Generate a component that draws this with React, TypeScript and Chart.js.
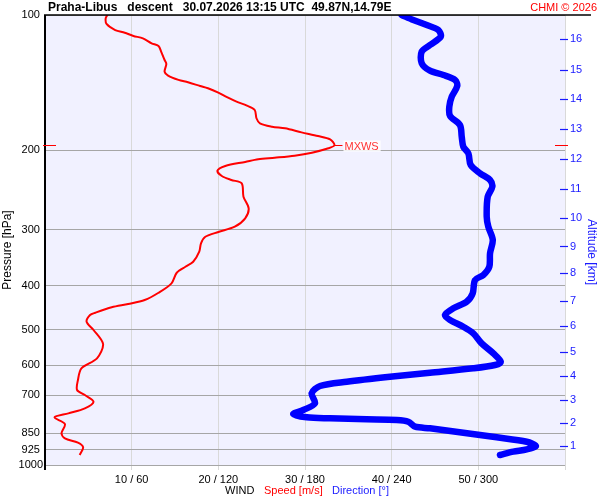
import React, { useEffect, useRef } from 'react';
import Chart from 'chart.js/auto';

const FONT = '"Liberation Sans", Arial, sans-serif';

// axes
const pressureTicks = [100, 200, 300, 400, 500, 600, 700, 850, 925, 1000];
const pressureTickLabels = ['100', '200', '300', '400', '500', '600', '700', '850', '925', '1000'];
const speedTicks = [0, 10, 20, 30, 40, 50, 60];
const speedTickLabels = ['', '10 / 60', '20 / 120', '30 / 180', '40 / 240', '50 / 300', ''];
const altitudeLabels = ['1', '2', '3', '4', '5', '6', '7', '8', '9', '10', '11', '12', '13', '14', '15', '16'];
const altitudePressure = [907.4, 807.9, 716.9, 633.3, 560.1, 491.1, 431.3, 375.0, 326.9, 283.0, 243.9, 209.2, 179.5, 153.9, 132.7, 113.1];

// wind speed profile [m/s] vs pressure [hPa]
const speedPressure = [
  100, 101.7, 104.7, 108, 109.5, 111.3, 112.7, 115.6, 117.2, 120.6,
  125.9, 128.5, 133.7, 136.4, 139.4, 141.1, 143.8, 145.5, 148.8, 152.3,
  155.8, 159, 162.6, 169.6, 174.1, 177.1, 178.6, 182.3, 185.7, 188.9,
  194.6, 197.8, 202.3, 205.4, 207.6, 209.2, 212.1, 216.5, 221.8, 227.9,
  232.6, 236.6, 253.4, 268.9, 283, 295.4, 303.5, 311, 321.6, 335.7,
  353.4, 362.6, 373.9, 394.7, 414.2, 429.9, 438.8, 446.3, 458.8, 464.2,
  480.4, 501.2, 538.4, 579.4, 609.8, 647.5, 681.3, 699, 723.4, 748.2,
  767.7, 783.6, 810.9, 850.5, 872.5, 892.2, 913.4, 950,
];
const speedValues = [
  7.2, 7.0, 7.1, 8.1, 9.2, 10.2, 11.3, 12.3, 13.1, 13.4,
  13.8, 14.0, 13.8, 14.2, 15.4, 16.5, 17.9, 18.8, 20.0, 21.0,
  22.1, 23.3, 24.2, 24.4, 24.8, 26.2, 27.7, 29.6, 31.5, 32.9,
  33.4, 32.7, 30.8, 28.8, 26.5, 24.6, 23.1, 20.8, 19.9, 20.4,
  21.5, 22.7, 22.9, 23.5, 23.1, 21.9, 20.0, 18.5, 18.0, 17.8,
  17.1, 16.2, 15.2, 14.6, 13.1, 11.5, 9.6, 7.7, 5.8, 5.2,
  4.8, 5.6, 6.7, 6.0, 4.2, 3.8, 3.7, 4.6, 5.6, 4.6,
  2.7, 1.1, 2.3, 1.9, 2.3, 3.8, 4.4, 4.0,
];

// wind direction profile [deg] vs pressure [hPa]
const dirPressure = [
  100, 102.6, 105.3, 108, 111.7, 116.6, 120.6, 128, 133, 135.9,
  139.4, 143.8, 151.9, 159.9, 167.6, 175.6, 186.4, 196.2, 203, 215.4,
  224.8, 232.6, 240.7, 253.4, 280.7, 295.4, 316.2, 338.5, 362.6, 378.3,
  388.1, 415.4, 433.6, 448.6, 464.2, 476.2, 492.9, 509.8, 536.6, 564.8,
  589.4, 599.5, 609.8, 623.7, 636.6, 653.1, 667.6, 692.9, 729.4, 754.8,
  770.4, 783.5, 787.5, 791.5, 794.3, 801.3, 822, 828.7, 847.7, 867.9,
  887.7, 907.4, 922.8, 934.1, 950,
];
const dirValues = [
  246.9, 255.0, 264.3, 272.3, 274.0, 266.5, 260.8, 260.8, 266.5, 275.8,
  283.9, 285.4, 281.6, 279.9, 280.4, 287.3, 288.5, 289.6, 293.1, 294.7,
  301.2, 308.1, 309.7, 306.5, 305.8, 306.9, 310.0, 308.1, 307.6, 303.4,
  297.7, 296.1, 292.0, 282.7, 276.9, 280.4, 289.6, 296.5, 302.3, 310.4,
  315.5, 311.5, 296.5, 266.5, 238.8, 208.9, 190.4, 184.6, 186.9, 178.8,
  171.9, 181.2, 197.3, 222.7, 243.5, 251.5, 256.2, 266.5, 289.6, 312.7,
  333.5, 339.9, 333.5, 324.2, 315.0,
];

const maxWindPressure = 194.6;
const maxWindSpeed = 33.4;

const titleText = 'Praha-Libus   descent   30.07.2026 13:15 UTC  49.87N,14.79E';

const decor = {
  id: 'decor',
  beforeDraw(chart: any) {
    const { ctx, chartArea: a } = chart;
    ctx.save();
    ctx.fillStyle = '#ffffff';
    ctx.fillRect(0, 0, chart.width, chart.height);
    ctx.fillStyle = '#f1f1ff';
    ctx.fillRect(a.left, a.top, a.right - a.left, a.bottom - a.top);
    ctx.restore();
  },
  afterDraw(chart: any) {
    const { ctx, chartArea: a, scales } = chart;
    ctx.save();

    // frame
    ctx.strokeStyle = '#000';
    ctx.lineWidth = 2;
    ctx.beginPath();
    ctx.moveTo(a.left, a.top);
    ctx.lineTo(a.left, a.bottom + 5);
    ctx.stroke();
    ctx.lineWidth = 1.5;
    ctx.beginPath();
    ctx.moveTo(a.left - 1, a.top);
    ctx.lineTo(591, a.top);
    ctx.stroke();

    // altitude tick marks
    ctx.strokeStyle = '#1a1aff';
    ctx.lineWidth = 1.2;
    altitudePressure.forEach((p) => {
      const y = Math.round(scales.yAlt.getPixelForValue(p)) + 0.5;
      ctx.beginPath();
      ctx.moveTo(a.right - 5, y);
      ctx.lineTo(a.right + 3, y);
      ctx.stroke();
    });

    // max wind marker
    const my = Math.round(scales.y.getPixelForValue(maxWindPressure)) + 0.5;
    const mx = scales.x.getPixelForValue(maxWindSpeed);
    ctx.strokeStyle = '#ff0000';
    ctx.lineWidth = 1;
    ctx.beginPath();
    ctx.moveTo(a.left - 2, my);
    ctx.lineTo(a.left + 11, my);
    ctx.moveTo(a.right - 10, my);
    ctx.lineTo(a.right + 3, my);
    ctx.moveTo(mx, my);
    ctx.lineTo(mx + 8, my);
    ctx.stroke();
    ctx.font = `11px ${FONT}`;
    ctx.textBaseline = 'middle';
    const lw = ctx.measureText('MXWS').width;
    ctx.fillStyle = 'rgba(255,255,255,0.85)';
    ctx.fillRect(mx + 9, my - 5, lw + 3, 11);
    ctx.fillStyle = '#ff3333';
    ctx.textAlign = 'left';
    ctx.fillText('MXWS', mx + 10, my + 1);

    // title and credit
    ctx.fillStyle = '#000';
    ctx.font = `bold 12px ${FONT}`;
    ctx.fillText(titleText, 48, 8);
    ctx.fillStyle = '#ff0000';
    ctx.font = `11px ${FONT}`;
    ctx.textAlign = 'right';
    ctx.fillText('CHMI \u00a9 2026', 597, 8);

    // axis titles
    ctx.font = `12px ${FONT}`;
    ctx.textAlign = 'center';
    ctx.fillStyle = '#000';
    ctx.save();
    ctx.translate(8, 250);
    ctx.rotate(-Math.PI / 2);
    ctx.fillText('Pressure [hPa]', 0, 0);
    ctx.restore();
    ctx.fillStyle = '#1a1aff';
    ctx.save();
    ctx.translate(591, 252);
    ctx.rotate(Math.PI / 2);
    ctx.fillText('Altitude [km]', 0, 0);
    ctx.restore();

    // bottom legend
    ctx.font = `11px ${FONT}`;
    ctx.textAlign = 'left';
    ctx.fillStyle = '#000';
    ctx.fillText('WIND', 225, 491);
    ctx.fillStyle = '#ff0000';
    ctx.fillText('Speed [m/s]', 264, 491);
    ctx.fillStyle = '#1a1aff';
    ctx.fillText('Direction [\u00b0]', 332, 491);

    ctx.restore();
  },
};

const App: React.FC = () => {
  const canvasRef = useRef<HTMLCanvasElement | null>(null);
  const chartRef = useRef<Chart | null>(null);

  useEffect(() => {
    document.body.style.margin = '0';
    if (!canvasRef.current) return;
    if (chartRef.current) chartRef.current.destroy();
    const ctx = canvasRef.current.getContext('2d');
    if (!ctx) return;

    Chart.defaults.font.family = FONT;

    chartRef.current = new Chart(ctx, {
      type: 'line',
      data: {
        datasets: [
          {
            label: 'Speed',
            data: speedPressure.map((p, i) => ({ x: speedValues[i], y: p })),
            xAxisID: 'x',
            yAxisID: 'y',
            borderColor: '#ff0000',
            borderWidth: 2,
            pointRadius: 0,
            tension: 0.3,
            fill: false,
          },
          {
            label: 'Direction',
            data: dirPressure.map((p, i) => ({ x: dirValues[i], y: p })),
            xAxisID: 'x2',
            yAxisID: 'y',
            borderColor: '#0000ff',
            borderWidth: 6.5,
            borderCapStyle: 'round',
            borderJoinStyle: 'round',
            pointRadius: 0,
            tension: 0.3,
            fill: false,
          },
        ],
      },
      options: {
        responsive: false,
        animation: false,
        layout: { padding: { top: 15, left: 0, right: 0, bottom: 0 } },
        plugins: {
          legend: { display: false },
          tooltip: { enabled: false },
        },
        scales: {
          x: {
            type: 'linear',
            position: 'bottom',
            min: 0,
            max: 60,
            afterBuildTicks: (s: any) => {
              s.ticks = speedTicks.map((v) => ({ value: v }));
            },
            afterFit: (s: any) => {
              s.height = 35;
            },
            grid: { color: '#d9d9d9', tickLength: 5, tickColor: '#d9d9d9' },
            border: { display: false },
            ticks: {
              autoSkip: false,
              maxRotation: 0,
              padding: 3,
              color: '#000',
              font: { size: 11 },
              callback: (_v: any, i: number) => speedTickLabels[i],
            },
          },
          x2: { type: 'linear', display: false, min: 0, max: 360 },
          y: {
            type: 'logarithmic',
            position: 'left',
            reverse: true,
            min: 100,
            max: 1000,
            afterBuildTicks: (s: any) => {
              s.ticks = pressureTicks.map((v) => ({ value: v }));
            },
            afterFit: (s: any) => {
              s.width = 45;
            },
            grid: { color: '#a6a6a6', drawTicks: false },
            border: { display: false },
            ticks: {
              autoSkip: false,
              crossAlign: 'center',
              padding: 2,
              color: '#000',
              font: { size: 11 },
              callback: (_v: any, i: number) => pressureTickLabels[i],
            },
          },
          yAlt: {
            type: 'logarithmic',
            position: 'right',
            reverse: true,
            min: 100,
            max: 1000,
            afterBuildTicks: (s: any) => {
              s.ticks = altitudePressure.map((v) => ({ value: v }));
            },
            afterFit: (s: any) => {
              s.width = 35;
            },
            grid: { display: false, drawTicks: false },
            border: { display: false },
            ticks: {
              autoSkip: false,
              padding: 5,
              color: '#1a1aff',
              font: { size: 11 },
              callback: (_v: any, i: number) => altitudeLabels[i],
            },
          },
        },
      },
      plugins: [decor],
    } as any);

    return () => {
      if (chartRef.current) {
        chartRef.current.destroy();
        chartRef.current = null;
      }
    };
  }, []);

  return (
    <div style={{ width: 600, height: 500 }}>
      <canvas ref={canvasRef} width={600} height={500} />
    </div>
  );
};

export default App;
